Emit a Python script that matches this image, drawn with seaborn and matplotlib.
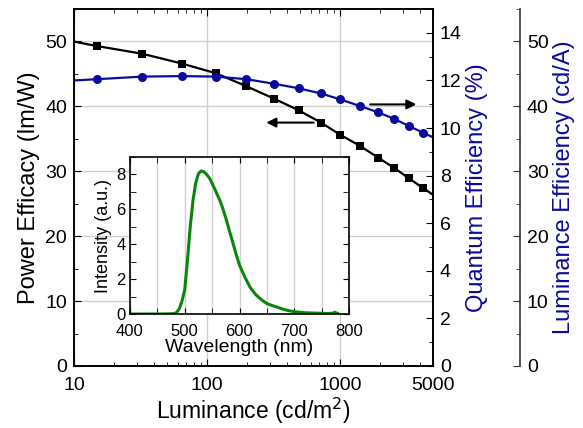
import numpy as np
import pandas as pd
import matplotlib
matplotlib.use('Agg')
import matplotlib.pyplot as plt
from matplotlib.ticker import MultipleLocator, FixedLocator, FixedFormatter, NullFormatter, LogLocator
import seaborn as sns

# data
luminance = [7, 14.8, 32.7, 64.6, 116.6, 197.6, 318, 488, 719, 1007, 1416, 1933, 2560, 3300, 4226, 5500]
power_efficacy = [50.6, 49.3, 48.1, 46.6, 45.1, 43.1, 41.2, 39.4, 37.5, 35.6, 33.9, 32.1, 30.5, 28.9, 27.4, 25.8]
quantum_eff = [11.95, 12.05, 12.16, 12.18, 12.16, 12.05, 11.86, 11.67, 11.45, 11.2, 10.92, 10.66, 10.38, 10.08, 9.8, 9.5]
x_ticks = [10, 100, 1000, 5000]
x_ticklabels = ['10', '100', '1000', '5000']

wavelength = [400, 450, 470, 480, 485, 490, 495, 500, 505, 510, 515, 520, 525, 530, 535, 540,
              545, 550, 555, 560, 565, 570, 575, 580, 585, 590, 595, 600, 610, 620, 630, 640,
              650, 660, 670, 680, 690, 700, 720, 740, 760, 770, 774, 777, 780]
intensity = [0, 0, 0.01, 0.02, 0.08, 0.3, 0.75, 1.4, 3.1, 5.0, 6.5, 7.5, 8.05, 8.2, 8.15, 8.0,
             7.8, 7.5, 7.15, 6.8, 6.45, 6.0, 5.5, 4.95, 4.4, 3.85, 3.3, 2.8, 2.1, 1.5, 1.1, 0.82,
             0.6, 0.48, 0.38, 0.27, 0.19, 0.13, 0.07, 0.05, 0.03, 0.04, 0.1, 0.05, 0.03]

main_df = pd.DataFrame({'L': luminance, 'PE': power_efficacy, 'QE': quantum_eff})
spec_df = pd.DataFrame({'wl': wavelength, 'I': intensity})

sns.set_style('ticks')
plt.rcParams['font.family'] = ['Liberation Sans', 'DejaVu Sans']
plt.rcParams['axes.linewidth'] = 1.2
for key in ['text.color', 'axes.labelcolor', 'xtick.color', 'ytick.color', 'axes.edgecolor']:
    plt.rcParams[key] = 'black'

blue = '#0a0a9c'
grid_c = '#d0d0d0'
tick_fs = 14
label_fs = 17

fig = plt.figure(figsize=(5.83, 4.28), dpi=100)
W, H = 583, 428
ax = fig.add_axes([74 / W, (H - 366) / H, (433 - 74) / W, (366 - 9) / H])

sns.lineplot(data=main_df, x='L', y='PE', ax=ax, color='black', marker='s',
             markersize=6.3, markeredgewidth=0, linewidth=1.6, sort=False)
ax.set_xscale('log')
ax.set_ylim(0, 55)
ax.yaxis.set_major_locator(MultipleLocator(10))
ax.yaxis.set_minor_locator(MultipleLocator(5))
ax.grid(True, which='major', color=grid_c, linewidth=1)
ax.set_axisbelow(True)
ax.tick_params(which='both', direction='in', top=True, labelsize=tick_fs, pad=5)
ax.tick_params(axis='x', which='both', pad=8)
ax.tick_params(which='major', length=5)
ax.tick_params(which='minor', length=3)
ax.set_xlabel('Luminance (cd/m$^2$)', fontsize=16.5, labelpad=1)
ax.set_ylabel('Power Efficacy (lm/W)', fontsize=label_fs, labelpad=4)

ax2 = ax.twinx()
sns.lineplot(data=main_df, x='L', y='QE', ax=ax2, color=blue, marker='o',
             markersize=6.5, markeredgewidth=0, linewidth=1.6, sort=False)
ax2.set_ylim(0, 15)
ax2.yaxis.set_major_locator(MultipleLocator(2))
ax2.yaxis.set_minor_locator(MultipleLocator(1))
ax2.tick_params(which='both', direction='in', labelsize=tick_fs, pad=5)
ax2.tick_params(which='major', length=5)
ax2.tick_params(which='minor', length=3)
ax2.set_ylabel('Quantum Efficiency (%)', fontsize=label_fs, color=blue, labelpad=3)

ax3 = ax.twinx()
ax3.spines['right'].set_position(('axes', (520 - 74) / (433 - 74)))
for s in ['top', 'bottom', 'left']:
    ax3.spines[s].set_visible(False)
ax3.spines['right'].set_color('#333333')
ax3.set_ylim(0, 55)
ax3.yaxis.set_major_locator(MultipleLocator(10))
ax3.yaxis.set_minor_locator(MultipleLocator(5))
ax3.tick_params(which='both', direction='in', labelsize=tick_fs, pad=5, color='#333333')
ax3.tick_params(which='major', length=5)
ax3.tick_params(which='minor', length=3)
ax3.set_ylabel('Luminance Efficiency (cd/A)', fontsize=label_fs, color=blue, labelpad=3)

# x axis ticks set last, twinx would otherwise reset them
ax.set_xlim(10, 5000)
ax.xaxis.set_major_locator(FixedLocator(x_ticks))
ax.xaxis.set_major_formatter(FixedFormatter(x_ticklabels))
ax.xaxis.set_minor_locator(LogLocator(base=10, subs=np.arange(2, 10), numticks=20))
ax.xaxis.set_minor_formatter(NullFormatter())

# arrows pointing to the matching axes
ax.annotate('', xy=(266, 37.5), xytext=(665, 37.5),
            arrowprops=dict(arrowstyle='-|>', color='black', lw=1.5, mutation_scale=14))
ax.annotate('', xy=(3936, 40.3), xytext=(1603, 40.3),
            arrowprops=dict(arrowstyle='-|>', color='black', lw=1.5, mutation_scale=14))

# inset spectrum
axi = fig.add_axes([130 / W, (H - 314) / H, (349 - 130) / W, (314 - 157) / H])
axi.set_facecolor('white')
sns.lineplot(data=spec_df, x='wl', y='I', ax=axi, color='#0a870a', linewidth=2.2)
axi.set_xlim(400, 800)
axi.set_ylim(0, 9)
axi.xaxis.set_major_locator(MultipleLocator(100))
axi.xaxis.set_minor_locator(MultipleLocator(50))
axi.yaxis.set_major_locator(MultipleLocator(2))
axi.yaxis.set_minor_locator(MultipleLocator(1))
axi.grid(True, axis='x', which='both', color=grid_c, linewidth=1)
axi.set_axisbelow(True)
axi.tick_params(which='both', direction='in', top=True, right=True, labelsize=12, pad=3)
axi.tick_params(axis='x', which='both', pad=7)
axi.tick_params(which='major', length=4)
axi.tick_params(which='minor', length=4)
axi.set_xlabel('Wavelength (nm)', fontsize=14, labelpad=0)
axi.set_ylabel('Intensity (a.u.)', fontsize=13, labelpad=3)

fig.savefig('out.png', dpi=100)
